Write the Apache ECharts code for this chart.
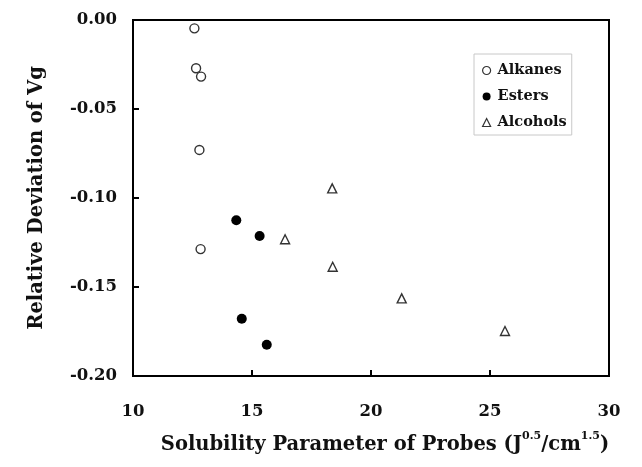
<!DOCTYPE html>
<html>
<head>
<meta charset="utf-8">
<script src="https://cdn.jsdelivr.net/npm/echarts@6/dist/echarts.min.js"></script>
<style>html,body{margin:0;padding:0;background:#fff;}#c{width:642px;height:467px;}</style>
</head>
<body>
<div id="c"></div>
<script>
const xTicks = [10, 15, 20, 25, 30];
const yTicks = [-0.20, -0.15, -0.10, -0.05, 0.00];
const seriesNames = ['Alkanes', 'Esters', 'Alcohols'];
const alkanesX = [12.58, 12.65, 12.86, 12.79, 12.84];
const alkanesY = [-0.0047, -0.0271, -0.0318, -0.0730, -0.1287];
const estersX = [14.34, 15.32, 14.57, 15.62];
const estersY = [-0.1125, -0.1213, -0.1678, -0.1824];
const alcoholsX = [18.37, 16.39, 18.39, 21.29, 25.63];
const alcoholsY = [-0.0946, -0.1232, -0.1386, -0.1564, -0.1747];

const zip = (a, b) => a.map((v, i) => [v, b[i]]);
const FONT = 'DejaVu Serif';

const chart = echarts.init(document.getElementById('c'), null, {renderer: 'canvas'});
chart.setOption({
  animation: false,
  backgroundColor: '#fff',
  grid: {left: 133, right: 33, top: 20, bottom: 91, show: true, borderColor: '#000', borderWidth: 2, backgroundColor: 'transparent'},
  legend: {
    show: true,
    data: [
      {name: seriesNames[0], icon: 'circle', itemStyle: {color: '#fff', borderColor: '#333', borderWidth: 1.2}},
      {name: seriesNames[1], icon: 'circle', itemStyle: {color: '#000', borderColor: '#000'}},
      {name: seriesNames[2], icon: 'triangle', itemStyle: {color: '#fff', borderColor: '#333', borderWidth: 1.2}}
    ],
    orient: 'vertical',
    left: 474, top: 54,
    itemWidth: 8, itemHeight: 8, itemGap: 11,
    padding: [9, 5, 5, 8],
    borderColor: '#c8c8c8', borderWidth: 1, borderRadius: 0,
    backgroundColor: '#fff',
    textStyle: {fontFamily: FONT, fontWeight: 'bold', fontSize: 14.5, color: '#111', padding: [0, 0, 0, 2]}
  },
  xAxis: {
    type: 'value', min: xTicks[0], max: xTicks[xTicks.length - 1], interval: 5,
    name: '{t|Solubility Parameter of Probes (J}{s|0.5}{t|/cm}{s|1.5}{t|)}',
    nameLocation: 'middle', nameGap: 55,
    nameTextStyle: {
      padding: [0, 0, 0, 28],
      rich: {
        t: {fontFamily: FONT, fontWeight: 'bold', fontSize: 19.5, color: '#111', verticalAlign: 'bottom', lineHeight: 24},
        s: {fontFamily: FONT, fontWeight: 'bold', fontSize: 11, color: '#111', verticalAlign: 'top', lineHeight: 24, padding: [0, 0, 11, 0]}
      }
    },
    axisLine: {show: true, onZero: false, lineStyle: {color: '#000', width: 2}},
    axisTick: {show: true, inside: true, length: 6, lineStyle: {color: '#000', width: 2}},
    splitLine: {show: false},
    axisLabel: {fontFamily: FONT, fontWeight: 'bold', fontSize: 16.5, color: '#111', margin: 27}
  },
  yAxis: {
    type: 'value', min: yTicks[0], max: yTicks[yTicks.length - 1], interval: 0.05,
    name: 'Relative Deviation of Vg',
    nameLocation: 'middle', nameGap: 86, nameRotate: 90,
    nameTextStyle: {fontFamily: FONT, fontWeight: 'bold', fontSize: 19.5, color: '#111'},
    axisLine: {show: true, onZero: false, lineStyle: {color: '#000', width: 2}},
    axisTick: {show: true, inside: true, length: 6, lineStyle: {color: '#000', width: 2}},
    splitLine: {show: false},
    axisLabel: {fontFamily: FONT, fontWeight: 'bold', fontSize: 16.5, color: '#111', margin: 16,
      formatter: v => v.toFixed(2)}
  },
  series: [
    {name: seriesNames[0], type: 'scatter', symbol: 'circle', symbolSize: 9, data: zip(alkanesX, alkanesY),
      itemStyle: {color: '#fff', borderColor: '#333', borderWidth: 1.4, opacity: 1}},
    {name: seriesNames[1], type: 'scatter', symbol: 'circle', symbolSize: 10, data: zip(estersX, estersY),
      itemStyle: {color: '#000', borderColor: '#000', borderWidth: 0, opacity: 1}},
    {name: seriesNames[2], type: 'scatter', symbol: 'triangle', symbolSize: 9, data: zip(alcoholsX, alcoholsY),
      itemStyle: {color: '#fff', borderColor: '#333', borderWidth: 1.4, opacity: 1}}
  ]
});
</script>
</body>
</html>
